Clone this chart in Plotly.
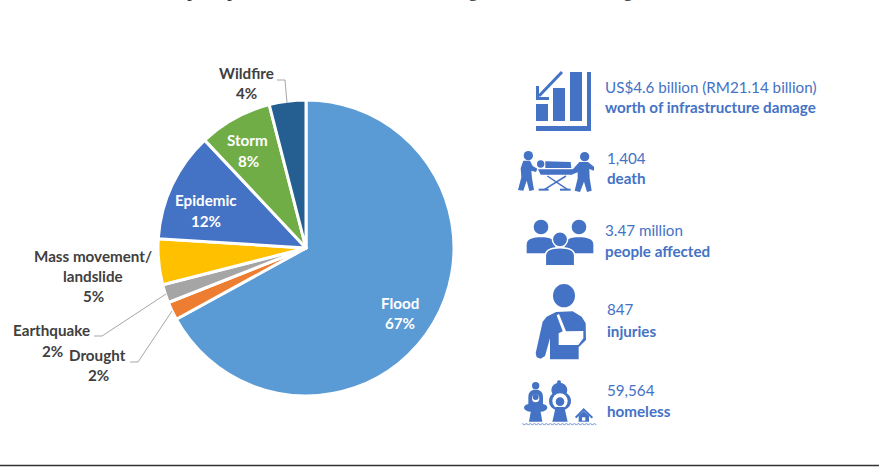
import plotly.graph_objects as go

# Disaster shares
categories = ["Flood", "Drought", "Earthquake", "Mass movement/<br>landslide", "Epidemic", "Storm", "Wildfire"]
shares = [67, 2, 2, 5, 12, 8, 4]
slice_colors = ["#5B9BD5", "#ED7D31", "#A5A5A5", "#FFC000", "#4472C4", "#70AD47", "#255E91"]

# Impact figures beside the pie
impact_values = ["US$4.6 billion (RM21.14 billion)", "1,404", "3.47 million", "847", "59,564"]
impact_labels = ["worth of infrastructure damage", "death", "people affected", "injuries", "homeless"]

WIDTH, HEIGHT = 879, 468
BLUE = "#4472C4"
GREY_TEXT = "#404040"
FONT = "Lato"
LEADER = "#A6A6A6"

fig = go.Figure()

# Invisible trace so the pixel-scaled axes exist for shapes and annotations
fig.add_trace(go.Scatter(x=[0], y=[0], mode="none", hoverinfo="skip", showlegend=False))

fig.add_trace(go.Pie(
    labels=categories,
    values=shares,
    sort=False,
    direction="clockwise",
    rotation=0,
    textinfo="none",
    hoverinfo="label+percent",
    showlegend=False,
    marker=dict(colors=slice_colors, line=dict(color="white", width=3)),
    domain=dict(x=[158 / WIDTH, 454 / WIDTH], y=[1 - 396 / HEIGHT, 1 - 100 / HEIGHT]),
))

shapes = []
annotations = []


def text(x, y, s, size=15.2, color=GREY_TEXT, bold=False, anchor="center"):
    annotations.append(dict(
        x=x, y=y, xref="x", yref="y", text=f"<b>{s}</b>" if bold else s,
        showarrow=False, xanchor=anchor, yanchor="middle",
        font=dict(family=FONT, size=size, color=color),
    ))


def pct(i):
    return f"{shares[i]}%"


# Slice labels, one annotation per line for even leading
def slice_label(i, xs, ys, color=GREY_TEXT):
    lines = categories[i].split("<br>") + [pct(i)]
    for line, x, y in zip(lines, xs, ys):
        text(x, y, line, color=color, bold=True)


slice_label(0, [400, 400], [303, 323], "white")
slice_label(1, [97, 98], [355, 375])
slice_label(2, [51, 52], [330, 351])
slice_label(3, [93, 93, 93], [256, 276, 296])
slice_label(4, [206, 206], [200, 221], "white")
slice_label(5, [247, 248], [140, 161], "white")
slice_label(6, [246, 246], [73, 93])

# Leader lines from outside labels to their slices
for pts in ([(277, 80), (285, 80), (287, 103)],
            [(94, 336), (102, 336), (166, 294)],
            [(130, 362), (138, 362), (172, 311)]):
    shapes.append(dict(type="path", xref="x", yref="y",
                       path="M " + " L ".join(f"{a},{b}" for a, b in pts),
                       line=dict(color=LEADER, width=1)))

# Right-hand column of figures
rows = [(603, 87, 107), (605, 158, 178), (603, 230, 251), (605, 309, 331), (605, 390, 411)]
for (x, y1, y2), val, lab in zip(rows, impact_values, impact_labels):
    text(x, y1, val, color=BLUE, anchor="left")
    text(x, y2, lab, color=BLUE, bold=True, anchor="left")

# Clipped descenders of the heading line above the chart
for x, ch in zip((192, 232, 473, 628), "ppgg"):
    annotations.append(dict(x=x, y=3, xref="x", yref="y", text=ch, showarrow=False,
                            xanchor="center", yanchor="bottom",
                            font=dict(family="Liberation Serif", size=20, color="#333333")))

# Rule along the bottom edge
shapes.append(dict(type="line", xref="x", yref="y", x0=0, x1=WIDTH, y0=465.5, y1=465.5,
                   line=dict(color="#333333", width=1.5)))


# Icon drawing helpers, working in local units scaled onto the page
def poly(points, ox, oy, s=1 / 3, fill=BLUE, close=True, line=None):
    d = "M " + " L ".join(f"{ox + a * s:.2f},{oy + b * s:.2f}" for a, b in points)
    shapes.append(dict(type="path", xref="x", yref="y", path=d + (" Z" if close else ""),
                       fillcolor=fill if close else "rgba(0,0,0,0)",
                       line=line or dict(width=0)))


def ell(cx, cy, rx, ry, ox, oy, s=1 / 3, fill=BLUE, line=None):
    shapes.append(dict(type="circle", xref="x", yref="y",
                       x0=ox + (cx - rx) * s, x1=ox + (cx + rx) * s,
                       y0=oy + (cy - ry) * s, y1=oy + (cy + ry) * s,
                       fillcolor=fill, line=line or dict(width=0)))


def stroke(points, ox, oy, width, s=1 / 3, color=BLUE):
    poly(points, ox, oy, s, close=False, line=dict(color=color, width=width))


def bust(x0, x1, ytop, ybot, ox, oy, s=1 / 3, line=None):
    k = lambda a, b: f"{ox + a * s:.2f},{oy + b * s:.2f}"
    mid = ytop + (ybot - ytop) * 0.45
    w = x1 - x0
    d = (f"M {k(x0, ybot)} L {k(x0, mid)} C {k(x0, ytop + 4)} {k(x0 + w * .25, ytop)} {k(x0 + w * .5, ytop)} "
         f"C {k(x0 + w * .75, ytop)} {k(x1, ytop + 4)} {k(x1, mid)} L {k(x1, ybot)} Z")
    shapes.append(dict(type="path", xref="x", yref="y", path=d, fillcolor=BLUE,
                       line=line or dict(width=0)))


# Falling bar chart icon
for x0, x1, y0 in ((536, 548, 104), (553, 565, 88), (570, 582, 72)):
    shapes.append(dict(type="rect", xref="x", yref="y", x0=x0, x1=x1, y0=y0, y1=121,
                       fillcolor=BLUE, line=dict(width=0)))
poly([(587, 72), (591, 72), (591, 131), (536, 131), (536, 126), (587, 126)], 0, 0, 1)
stroke([(562, 72), (539, 96)], 0, 0, 3, 1)
stroke([(537.5, 86), (537.5, 98.5), (549, 98.5)], 0, 0, 3, 1)

# Stretcher icon
ox, oy = 510, 140
ell(55, 47, 14, 14, ox, oy)
poly([(40, 62), (60, 62), (68, 78), (82, 86), (78, 96), (64, 92), (66, 115), (72, 150), (58, 153),
      (50, 122), (40, 152), (24, 150), (34, 112), (32, 85)], ox, oy)
ell(224, 50, 14, 14, ox, oy)
poly([(208, 66), (234, 66), (252, 80), (252, 92), (238, 87), (239, 115), (245, 152), (231, 156),
      (222, 125), (210, 156), (194, 152), (203, 115), (203, 97), (190, 102), (184, 93)], ox, oy)
ell(92, 72, 11, 11, ox, oy)
poly([(106, 64), (182, 66), (184, 84), (106, 84)], ox, oy)
poly([(84, 88), (192, 88), (188, 104), (92, 104)], ox, oy)
stroke([(112, 108), (172, 148)], ox, oy, 1.5)
stroke([(168, 108), (104, 148)], ox, oy, 1.5)
stroke([(86, 149), (116, 149)], ox, oy, 2)
stroke([(150, 149), (182, 149)], ox, oy, 2)

# Group of people icon
ox, oy = 510, 205
ell(93, 66, 22, 22, ox, oy)
ell(207, 66, 22, 22, ox, oy)
bust(50, 136, 97, 145, ox, oy)
bust(164, 250, 97, 145, ox, oy)
white = dict(color="white", width=1.5)
ell(150, 103, 23, 23, ox, oy, line=white)
bust(106, 194, 128, 182, ox, oy, line=white)

# Person with arm in a sling
ox, oy = 500, 270
ell(192, 77, 33, 35, ox, oy)
poly([(150, 268), (150, 205), (135, 258), (122, 266), (110, 262), (107, 250), (128, 155), (140, 140),
      (168, 126), (218, 124), (245, 140), (257, 160), (258, 210), (236, 232), (236, 268)], ox, oy)
poly([(170, 136), (177, 132), (198, 184), (250, 183), (250, 205), (235, 225), (176, 225), (176, 190), (188, 184)],
     ox, oy, fill="white")

# Flood-displaced family icon
ox, oy = 515, 375
ell(62, 32, 11, 11, ox, oy)
bust(40, 84, 44, 96, ox, oy)
ell(62, 70, 11, 12, ox, oy, fill="white")
ell(62, 66, 9, 9, ox, oy)
ell(48, 98, 21, 12, ox, oy)
ell(76, 98, 21, 12, ox, oy)
poly([(48, 105), (76, 105), (82, 140), (42, 140)], ox, oy)
ell(133, 45, 24, 22, ox, oy)
ell(132, 21, 6, 5, ox, oy)
ell(135, 78, 33, 30, ox, oy)
ell(135, 78, 23, 23, ox, oy, fill="white")
ell(135, 80, 13, 13, ox, oy)
poly([(122, 96), (148, 96), (158, 140), (112, 140)], ox, oy)
stroke([(182, 128), (206, 103), (232, 128)], ox, oy, 2)
poly([(191, 122), (206, 108), (222, 122), (222, 140), (191, 140)], ox, oy)
poly([(201, 127), (211, 127), (211, 137), (201, 137)], ox, oy, fill="white")
waves = [(22 + i * 6, 146 + (i % 2) * 3) for i in range(38)]
stroke(waves, ox, oy, 1, color="#6F90D2")

fig.update_layout(
    width=WIDTH, height=HEIGHT,
    margin=dict(l=0, r=0, t=0, b=0),
    paper_bgcolor="white", plot_bgcolor="white",
    xaxis=dict(range=[0, WIDTH], visible=False, fixedrange=True),
    yaxis=dict(range=[HEIGHT, 0], visible=False, fixedrange=True),
    shapes=shapes, annotations=annotations,
)

fig.write_html("out.html")
